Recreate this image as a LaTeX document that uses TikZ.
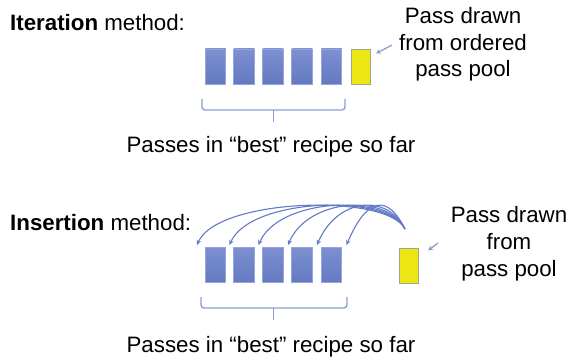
\documentclass[tikz,border=0pt]{standalone}
\usepackage{fontspec}
\setmainfont{Liberation Sans}
\usetikzlibrary{arrows.meta}

\definecolor{passblue}{RGB}{100,121,192}
\definecolor{passbluetop}{RGB}{124,144,210}
\definecolor{passedge}{RGB}{150,166,216}
\definecolor{passyellow}{RGB}{236,231,20}
\definecolor{yellowedge}{RGB}{165,165,140}
\definecolor{bracecol}{RGB}{138,158,212}
\definecolor{arccol}{RGB}{98,122,198}

\tikzset{
  passbox/.style={rectangle, minimum width=20.5pt, minimum height=35pt, inner sep=0pt,
    top color=passbluetop, bottom color=passblue, draw=passedge, line width=0.6pt},
  drawnbox/.style={rectangle, minimum width=19pt, minimum height=35pt, inner sep=0pt,
    fill=passyellow, draw=yellowedge, line width=0.6pt},
  label/.style={inner sep=0pt, font=\fontsize{22.3}{26.5}\selectfont},
  bracket/.style={draw=bracecol, line width=1.4pt, rounded corners=3pt},
  pointer/.style={draw=bracecol, line width=1.3pt, -{Stealth[length=5pt,width=5pt]}},
  insarc/.style={draw=arccol, line width=1.1pt, -{Stealth[length=5pt,width=4.5pt]}}
}

\begin{document}
\begin{tikzpicture}[x=1pt, y=-1pt]
  \useasboundingbox (0,0) rectangle (575,358);

  % ---------- Iteration method ----------
  \node[label, anchor=base west] (itTitle) at (10,31) {\textbf{Iteration} method:};

  \node[passbox] (i1) at (215.5,66.5) {};
  \node[passbox] (i2) at (244.0,66.5) {};
  \node[passbox] (i3) at (273.0,66.5) {};
  \node[passbox] (i4) at (302.0,66.5) {};
  \node[passbox] (i5) at (331.5,66.5) {};
  \node[drawnbox] (iy) at (361.0,66.5) {};

  \node[label, anchor=base] (itPool1) at (463,24) {Pass drawn};
  \node[label, anchor=base] (itPool2) at (463,50.5) {from ordered};
  \node[label, anchor=base] (itPool3) at (463,77) {pass pool};
  \coordinate (itFrom) at (392,45);
  \coordinate (itTo) at (376,53.5);
  \draw[pointer] (itFrom) -- (itTo);

  % bracket under the recipe
  \coordinate (ibL) at (202,99);
  \coordinate (ibR) at (345,99);
  \coordinate (ibM) at (273.5,110);
  \coordinate (ibTip) at (273.5,122);
  \draw[bracket] (ibL) -- (202,110) -- (345,110) -- (ibR);
  \draw[bracket] (ibM) -- (ibTip);
  \node[label, anchor=base] (itBest) at (271,153) {Passes in “best” recipe so far};

  % ---------- Insertion method ----------
  \node[label, anchor=base west] (insTitle) at (10,230) {\textbf{Insertion} method:};

  \node[passbox] (n1) at (215.5,264.5) {};
  \node[passbox] (n2) at (244.0,264.5) {};
  \node[passbox] (n3) at (273.0,264.5) {};
  \node[passbox] (n4) at (302.0,264.5) {};
  \node[passbox] (n5) at (331.5,264.5) {};
  \node[drawnbox] (ny) at (409.0,265.5) {};

  \node[label, anchor=base] (insPool1) at (509,222) {Pass drawn};
  \node[label, anchor=base] (insPool2) at (509,249) {from};
  \node[label, anchor=base] (insPool3) at (509,276) {pass pool};
  \coordinate (insFrom) at (438,243);
  \coordinate (insTo) at (428,250.5);
  \draw[pointer] (insFrom) -- (insTo);

  % insertion points: before, between and after the passes
  \coordinate (src) at (405,229);
  \foreach \k/\tx in {0/197,1/229.5,2/258.5,3/288,4/317,5/346.5}{
    \coordinate (ins\k) at (\tx,245);
    \draw[insarc] (src) .. controls (387,193) and (\tx+20,198) .. (ins\k);
  }

  % bracket under the recipe
  \coordinate (nbL) at (201,297);
  \coordinate (nbR) at (347,297);
  \coordinate (nbM) at (273.5,308);
  \coordinate (nbTip) at (273.5,319.5);
  \draw[bracket] (nbL) -- (201,308) -- (347,308) -- (nbR);
  \draw[bracket] (nbM) -- (nbTip);
  \node[label, anchor=base] (insBest) at (271,352) {Passes in “best” recipe so far};
\end{tikzpicture}
\end{document}
